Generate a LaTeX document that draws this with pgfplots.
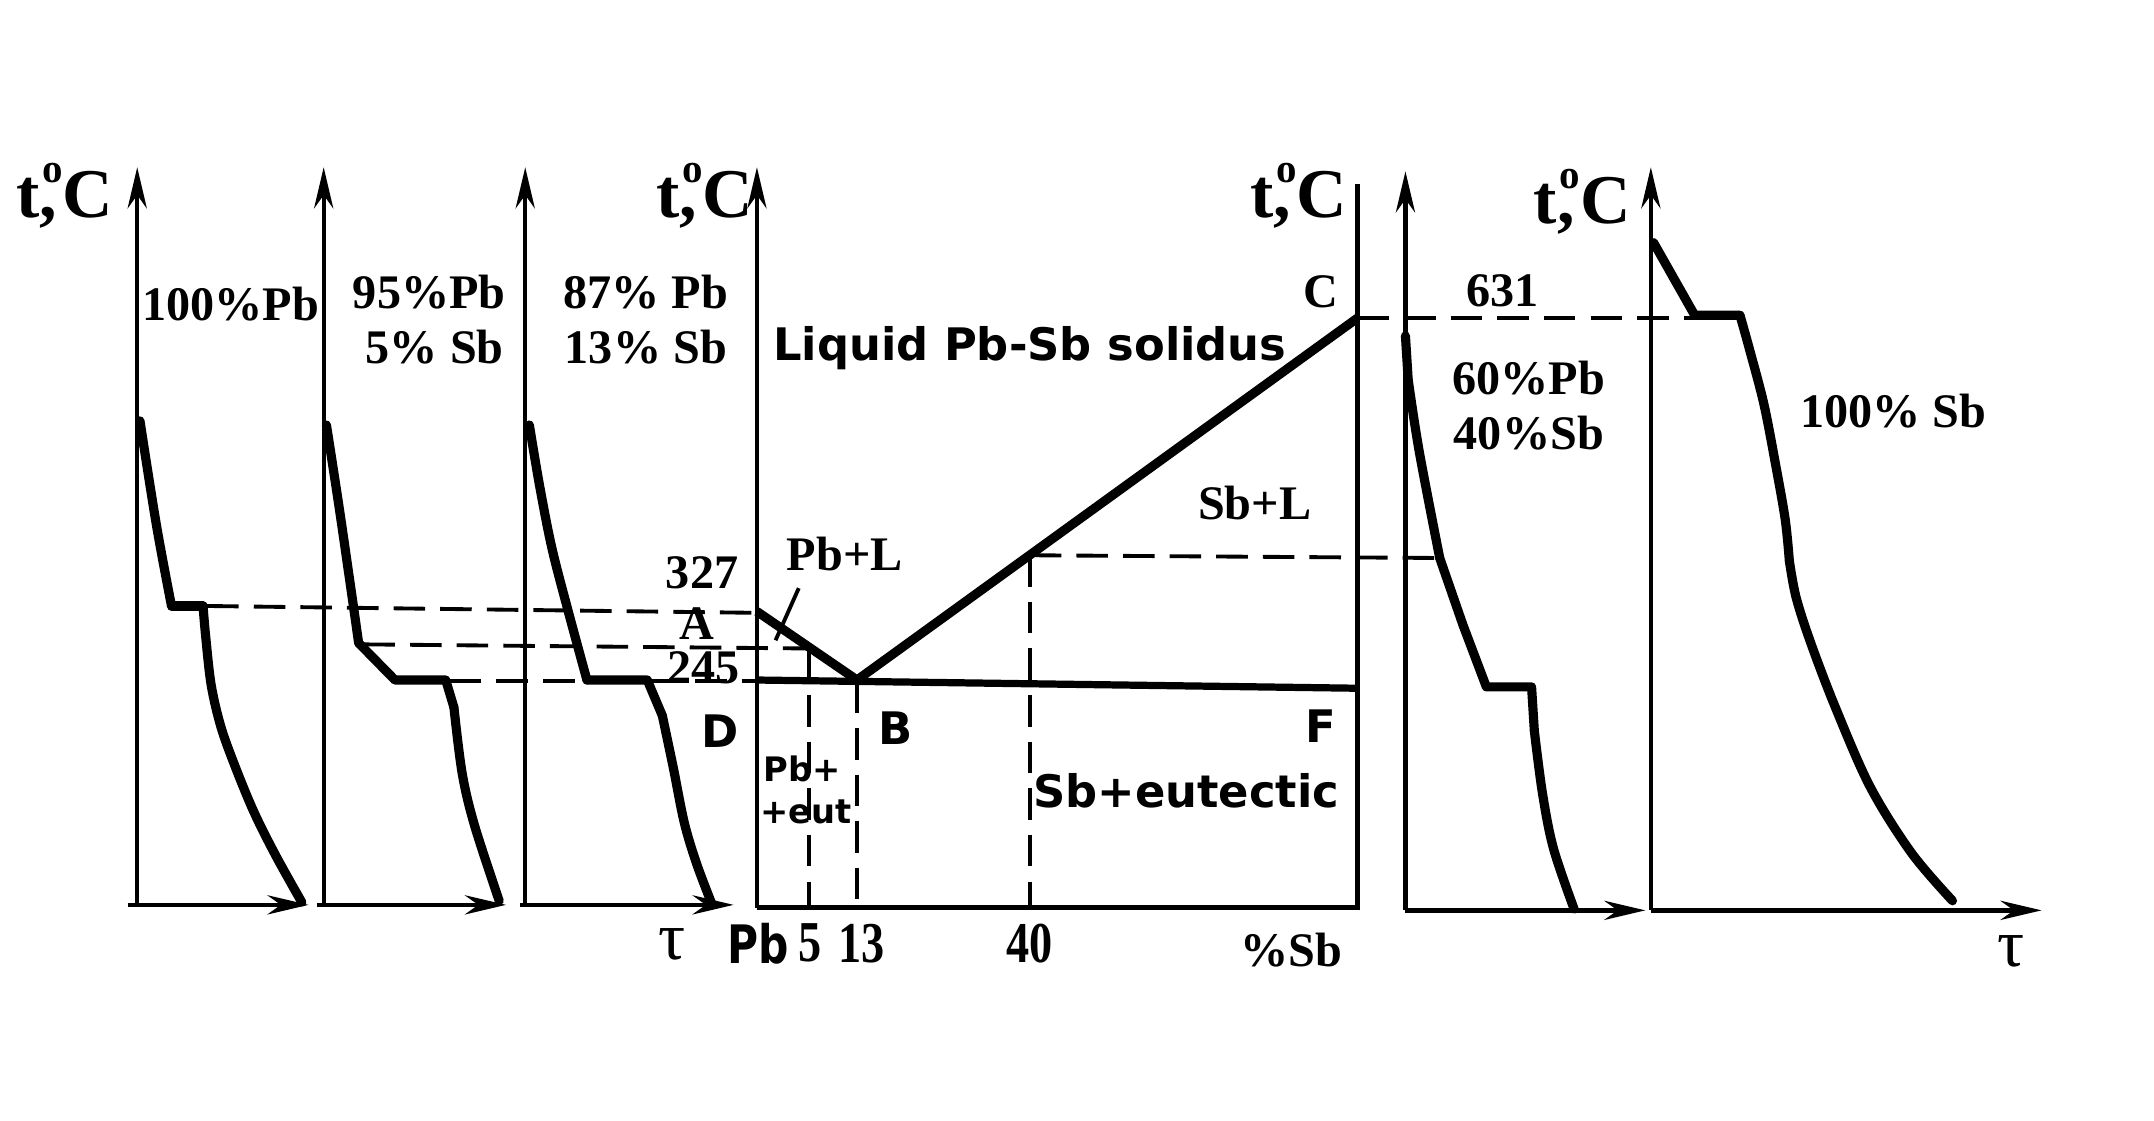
\documentclass[border=0pt]{standalone}
\usepackage{fontspec}
\setmainfont{Liberation Serif}
\newfontfamily\dvs{DejaVu Sans}
\usepackage{pgfplots}
\pgfplotsset{compat=1.18}
\usetikzlibrary{arrows.meta}
\newcommand\lab{\fontsize{10}{12}\selectfont\bfseries}
\newcommand\sanslab{\dvs\fontsize{9.3}{11}\selectfont\bfseries}
\newcommand\tC{{\fontsize{14.5}{16}\selectfont\bfseries t\rlap{,}\kern0.04em\raisebox{0.5em}{\fontsize{8.5}{8}\selectfont o}C}}
\begin{document}
\begin{tikzpicture}
\path (0,0) rectangle (156.8mm,81.7mm);
\begin{axis}[x=0.1mm, y=0.1mm, xmin=0, xmax=1568, ymin=0, ymax=817,
  y dir=reverse, hide axis, clip=false, at={(0,0)}, anchor=south west]
\pgfplotsset{ax/.style={black, line width=0.9pt, -{Stealth[length=3mm,width=1.4mm]}},
  cur/.style={black, line width=1.9pt, line join=round, line cap=round},
  scur/.style={black, line width=1.9pt, line join=round, line cap=round, smooth, tension=0.55},
  dsh/.style={black, line width=0.8pt, dash pattern=on 2.3mm off 1.1mm}}
% ---------- axes ----------
\addplot[ax] coordinates {(97,661) (97,122)};
\addplot[ax] coordinates {(90,660) (222,660)};
\addplot[ax] coordinates {(233,661) (233,122)};
\addplot[ax] coordinates {(228,660) (366,660)};
\addplot[ax] coordinates {(380,661) (380,122)};
\addplot[ax] coordinates {(376,660) (532,660)};
\addplot[ax] coordinates {(549,662) (549,122)};
\addplot[black, line width=0.9pt] coordinates {(549,662) (987,662) (987,134)};
\addplot[ax] coordinates {(1022,664) (1022,125)};
\addplot[ax] coordinates {(1022,664) (1197,664)};
\addplot[ax] coordinates {(1201,664) (1201,122)};
\addplot[ax] coordinates {(1201,664) (1486,664)};
% ---------- dashed guide lines ----------
\addplot[dsh] coordinates {(148,442) (549,447)};
\addplot[dsh] coordinates {(262,470) (587,473)};
\addplot[dsh] coordinates {(325,497) (428,497)};
\addplot[dsh] coordinates {(470,497) (549,497)};
\addplot[dsh] coordinates {(587,473) (587,662)};
\addplot[dsh] coordinates {(622,497) (622,662)};
\addplot[dsh] coordinates {(748,405) (748,662)};
\addplot[dsh] coordinates {(748,405) (1047,407)};
\addplot[dsh] coordinates {(987,232) (1234,232)};
% ---------- cooling curve 100% Pb ----------
\addplot[scur] coordinates {(99,307) (111,383) (122,442)};
\addplot[cur] coordinates {(122,442) (145,442)};
\addplot[scur] coordinates {(145,442) (147,465) (151,500) (158,530) (168,558) (182,592) (198,624) (217,658)};
% ---------- cooling curve 95% Pb ----------
\addplot[scur] coordinates {(235,310) (245,375) (258.5,469)};
\addplot[cur] coordinates {(258.5,469) (285,496) (322,496) (328,516)};
\addplot[scur] coordinates {(328,516) (334,564) (343,602) (361,657)};
% ---------- cooling curve 87% Pb ----------
\addplot[scur] coordinates {(383,310) (390.6,355) (399.5,400) (411.4,446) (425,496)};
\addplot[cur] coordinates {(425,496) (469,496) (480,522)};
\addplot[scur] coordinates {(480,522) (488,560) (496,600) (505,630) (516,659)};
% ---------- cooling curve 60% Pb ----------
\addplot[cur] coordinates {(1022,245) (1024,277)};
\addplot[scur] coordinates {(1024,277) (1032,329) (1047,407)};
\addplot[cur] coordinates {(1047,407) (1064,456) (1081,501) (1114,501) (1116,533)};
\addplot[scur] coordinates {(1116,533) (1122,579) (1130,619) (1145,663)};
% ---------- cooling curve 100% Sb ----------
\addplot[cur] coordinates {(1203,177) (1233,230) (1266,230)};
\addplot[scur] coordinates {(1266,230) (1273,255) (1283.5,295) (1292,339) (1299,379) (1302,409)};
\addplot[scur] coordinates {(1302,409) (1307,436) (1318,470) (1336,517) (1361,574) (1391,622) (1421,657)};
% ---------- phase diagram ----------
\addplot[black, line width=1.9pt, line join=round] coordinates {(549,446) (622,496) (987,232)};
\addplot[black, line width=1.5pt] coordinates {(549,496) (987,502)};
\addplot[black, line width=0.8pt] coordinates {(579.5,429) (562.6,467)};
% ---------- labels ----------
\node at (axis cs:44,143) {\tC};
\node at (axis cs:511,143) {\tC};
\node at (axis cs:944,143) {\tC};
\node at (axis cs:1151,147) {\tC};
\node[font=\lab] at (axis cs:165,222) {100\%Pb};
\node[font=\lab] at (axis cs:310,213) {95\%Pb};
\node[font=\lab] at (axis cs:314,253) {5\% Sb};
\node[font=\lab] at (axis cs:468,213) {87\% Pb};
\node[font=\lab] at (axis cs:468,253) {13\% Sb};
\node[font=\sanslab] at (axis cs:748,254) {Liquid Pb-Sb solidus};
\node[font=\lab] at (axis cs:960,213) {C};
\node[font=\lab] at (axis cs:1093,212) {631};
\node[font=\lab] at (axis cs:1112,276) {60\%Pb};
\node[font=\lab] at (axis cs:1112,316) {40\%Sb};
\node[font=\lab] at (axis cs:1378,300) {100\% Sb};
\node[font=\lab] at (axis cs:912,367) {Sb+L};
\node[font=\lab] at (axis cs:613,404) {Pb+L};
\node[font=\lab] at (axis cs:509,418) {327};
\node[font=\lab] at (axis cs:505,455) {A};
\node[font=\lab] at (axis cs:510,487) {245};
\node[font=\sanslab] at (axis cs:522,533) {D};
\node[font=\sanslab] at (axis cs:650,531) {B};
\node[font=\sanslab] at (axis cs:960,530) {F};
\node[font=\dvs\fontsize{7}{8}\selectfont\bfseries] at (axis cs:582,561) {Pb+};
\node[font=\dvs\fontsize{7}{8}\selectfont\bfseries] at (axis cs:585,592) {+eut};
\node[font=\sanslab] at (axis cs:862,577) {Sb+eutectic};
\node[font=\fontsize{14}{16}\selectfont] at (axis cs:487,689) {τ};
\node[font=\dvs\fontsize{11}{12}\selectfont\bfseries, xscale=0.8] at (axis cs:550,688) {Pb};
\node[font=\fontsize{12}{14}\selectfont\bfseries, xscale=0.8] at (axis cs:588,688) {5};
\node[font=\fontsize{12}{14}\selectfont\bfseries, xscale=0.8] at (axis cs:625,688) {13};
\node[font=\fontsize{12}{14}\selectfont\bfseries, xscale=0.8] at (axis cs:748,688) {40};
\node[font=\lab] at (axis cs:939,693) {\%Sb};
\node[font=\fontsize{14}{16}\selectfont] at (axis cs:1464,694) {τ};
\end{axis}
\end{tikzpicture}
\end{document}
